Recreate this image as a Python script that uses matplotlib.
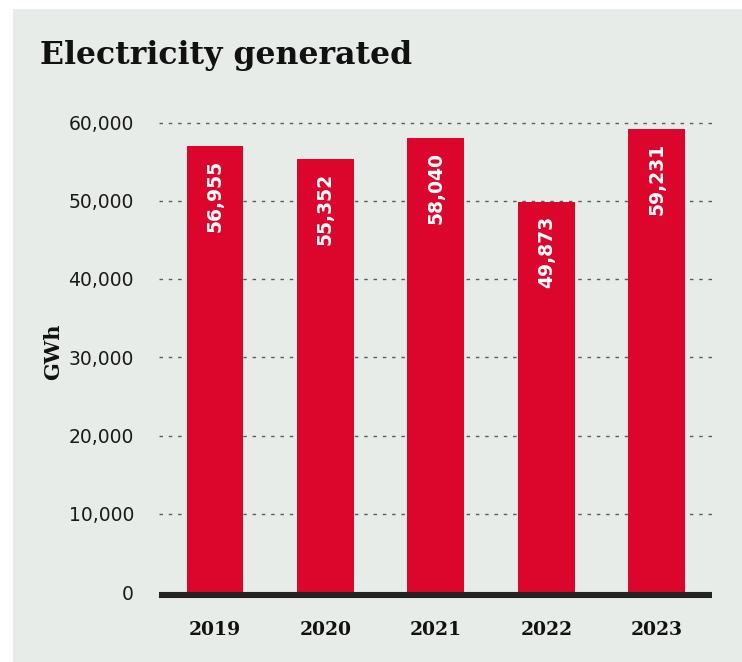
import matplotlib
matplotlib.use("Agg")
import matplotlib.pyplot as plt
import matplotlib.transforms as mtrans
from matplotlib.patches import Rectangle

years = ["2019", "2020", "2021", "2022", "2023"]
values = [56955, 55352, 58040, 49873, 59231]
yticks = [0, 10000, 20000, 30000, 40000, 50000, 60000]
title = "Electricity generated"
ylabel = "GWh"

BG = "#E8ECE9"
RED = "#DC062D"
W, H = 742, 662

fig = plt.figure(figsize=(W / 100, H / 100), dpi=100)
fig.patch.set_facecolor("white")
fig.patches.append(Rectangle((13 / W, 0), 1 - 13 / W, (H - 9) / H,
                             transform=fig.transFigure, facecolor=BG,
                             edgecolor="none", zorder=-10))

ax = fig.add_axes([159 / W, (H - 592) / H, (712 - 159) / W, (592 - 122.5) / H])
ax.set_zorder(1)
ax.set_facecolor("none")
x = list(range(len(years)))
ax.bar(x, values, width=0.515, color=RED, zorder=3)
ax.set_xlim(-0.507, 4.5)
ax.set_ylim(0, 60000)

for v in yticks[1:]:
    ax.axhline(v, color="#5a5a5a", lw=1.0, ls=(0, (2.5, 4.2)), zorder=1,
               clip_on=False)
base_tr = ax.get_yaxis_transform() + mtrans.ScaledTranslation(0, -3 / 100, fig.dpi_scale_trans)
ax.plot([0, 1], [0, 0], transform=base_tr, color="#222222", lw=4.4,
        solid_capstyle="butt", zorder=4, clip_on=False)

ax.set_yticks(yticks)
ax.set_yticklabels([f"{v:,}" for v in yticks], fontfamily="DejaVu Sans",
                   fontsize=13.5, color="#1a1a1a")
ax.set_xticks(x)
ax.set_xticklabels(years, fontfamily="DejaVu Serif", fontweight="bold",
                   fontsize=13.5, color="#111111")
ax.tick_params(axis="y", length=0, pad=18)
ax.tick_params(axis="x", length=0, pad=21)
for s in ax.spines.values():
    s.set_visible(False)

for xi, v in zip(x, values):
    ax.annotate(f"{v:,}", (xi, v), xytext=(0, -14), textcoords="offset pixels",
                rotation=90, ha="center", va="top", color="white",
                fontfamily="DejaVu Sans", fontweight="bold", fontsize=13.5,
                zorder=5)

fig.text(53 / W, 1 - 352 / H, ylabel, rotation=90, ha="center", va="center",
         fontfamily="DejaVu Serif", fontweight="bold", fontsize=15,
         color="#111111")
fig.text(40 / W, 1 - 64 / H, title, ha="left", va="baseline",
         fontfamily="DejaVu Serif", fontweight="bold", fontsize=22.7,
         color="#111111")

fig.savefig("out.png", dpi=100)
